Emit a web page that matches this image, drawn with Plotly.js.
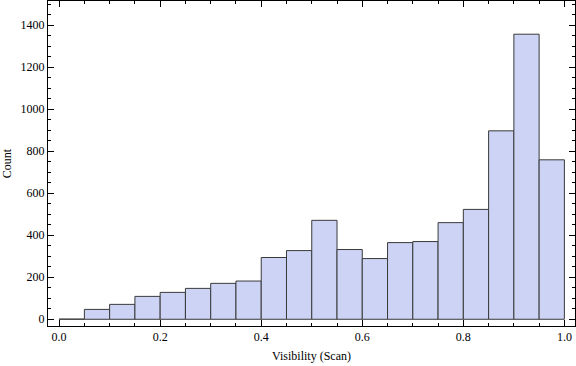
<!DOCTYPE html>
<html><head><meta charset="utf-8">
<script src="https://cdn.plot.ly/plotly-3.0.1.min.js"></script>
<style>html,body{margin:0;padding:0;background:#fff}#chart{width:576px;height:366px}</style>
</head><body><div id="chart"></div>
<script>
const binStarts = [0.00,0.05,0.10,0.15,0.20,0.25,0.30,0.35,0.40,0.45,0.50,0.55,0.60,0.65,0.70,0.75,0.80,0.85,0.90,0.95];
const binWidth = 0.05;
const counts = [1,47,71,109,128,147,171,182,294,327,471,332,289,365,370,460,523,897,1357,759];
const xTitle = "Visibility (Scan)";
const yTitle = "Count";

const centers = binStarts.map(s => s + binWidth/2);
const font = {family: "Liberation Serif", size: 12, color: "#000"};
const axisCommon = {
  showgrid: false, zeroline: false, showline: true, linecolor: "#000", linewidth: 1,
  mirror: "allticks", ticks: "inside", ticklen: 6, tickcolor: "#000", tickwidth: 1,
  tickfont: font
};
Plotly.newPlot("chart", [{
  type: "bar", x: centers, y: counts, width: binWidth,
  marker: {color: "#ccd3f4", line: {color: "#3a3a3a", width: 1}},
  hoverinfo: "none"
}], {
  width: 576, height: 366,
  margin: {l: 48, r: 1, t: 1, b: 40},
  paper_bgcolor: "#fff", plot_bgcolor: "#fff",
  font: font, showlegend: false, bargap: 0,
  xaxis: Object.assign({}, axisCommon, {
    range: [-0.022, 1.021], tickvals: [0, 0.2, 0.4, 0.6, 0.8, 1.0],
    ticktext: ["0.0","0.2","0.4","0.6","0.8","1.0"],
    minor: {dtick: 0.05, tick0: 0, ticks: "inside", ticklen: 3, tickcolor: "#000", showgrid: false},
    title: {text: xTitle, font: font, standoff: 8}
  }),
  yaxis: Object.assign({}, axisCommon, {
    range: [-32, 1515], tickvals: [0,200,400,600,800,1000,1200,1400],
    minor: {dtick: 50, tick0: 0, ticks: "inside", ticklen: 3, tickcolor: "#000", showgrid: false},
    title: {text: yTitle, font: font, standoff: 8}
  })
}, {staticPlot: true});
</script></body></html>
